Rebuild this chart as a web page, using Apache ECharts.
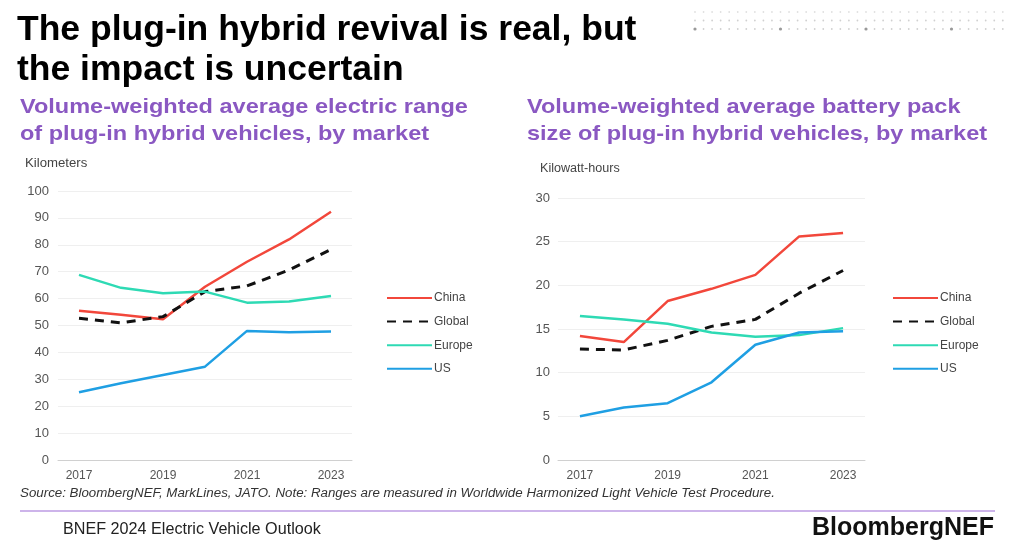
<!DOCTYPE html>
<html><head><meta charset="utf-8">
<script src="https://cdn.jsdelivr.net/npm/echarts@6/dist/echarts.min.js"></script>
<style>html,body{margin:0;padding:0;background:#fff}#c{width:1024px;height:555px}</style>
</head><body><div id="c"></div>
<script>
const years = ['2017','2018','2019','2020','2021','2022','2023'];
const seriesNames = ['China','Global','Europe','US'];
const rangeChina  = [55.5, 54.0, 52.3, 64.4, 73.7, 82.0, 92.3];
const rangeGlobal = [52.7, 51.0, 53.3, 62.6, 64.7, 70.6, 78.3];
const rangeEurope = [68.8, 64.0, 62.0, 62.6, 58.5, 58.9, 61.0];
const rangeUS     = [25.2, 28.5, 31.6, 34.7, 48.0, 47.5, 47.8];
const packChina  = [14.2, 13.5, 18.2, 19.6, 21.2, 25.6, 26.0];
const packGlobal = [12.7, 12.6, 13.7, 15.3, 16.1, 19.1, 21.7];
const packEurope = [16.5, 16.1, 15.6, 14.6, 14.1, 14.3, 15.1];
const packUS     = [5.0, 6.0, 6.5, 8.9, 13.2, 14.6, 14.75];

const colors = {China:'#f2473b', Global:'#111111', Europe:'#2edab4', US:'#1f9fe3'};
const FONT = '"Liberation Sans", Arial, sans-serif';

function mk(name, data, idx){
  const dashed = name === 'Global';
  return {
    name, type:'line', data, xAxisIndex:idx, yAxisIndex:idx,
    symbol:'none', smooth:false, animation:false,
    lineStyle:{color:colors[name], width: dashed ? 3 : 2.5, type: dashed ? [9,7] : 'solid'},
    itemStyle:{color:colors[name]}
  };
}

const dots = [];
for (let r = 0; r < 3; r++) {
  for (let c = 0; c < 37; c++) {
    const big = (r === 2 && c % 10 === 0);
    dots.push({type:'circle', shape:{cx:695 + c*8.55, cy:12 + r*8.5, r: big ? 1.6 : 0.9},
      style:{fill: big ? '#999' : (r === 0 ? '#e0e0e0' : '#d0d0d0')}, silent:true});
  }
}

function txt(x, y, text, font, fill, scaleX, lineHeight){
  return {type:'text', x, y, scaleX: scaleX || 1, silent:true,
    style:{text, font, fill, verticalAlign:'top', lineHeight: lineHeight || undefined}};
}

const yLabel = {color:'#555', fontSize:13, fontFamily:FONT};
const xLabel = {color:'#555', fontSize:12, fontFamily:FONT};
const legendText = {color:'#444', fontSize:12, fontFamily:FONT, padding:[0,0,0,-3]};
const chart = echarts.init(document.getElementById('c'), null, {renderer:'canvas'});
chart.setOption({
  animation:false,
  textStyle:{fontFamily:FONT},
  grid:[
    {left:58, right:672, top:191, bottom:95, containLabel:false},
    {left:558, right:159, top:198, bottom:95, containLabel:false}
  ],
  xAxis:[0,1].map(i => ({
    type:'category', data:years, gridIndex:i, boundaryGap:true,
    axisLine:{lineStyle:{color:'#d0d0d0', width:1}}, axisTick:{show:false},
    axisLabel:Object.assign({interval:1, margin:10}, xLabel)
  })),
  yAxis:[
    {type:'value', gridIndex:0, min:0, max:100, interval:10,
     axisLine:{show:false}, axisTick:{show:false},
     axisLabel:Object.assign({margin:9}, yLabel),
     splitLine:{lineStyle:{color:'#efefef', width:1}}},
    {type:'value', gridIndex:1, min:0, max:30, interval:5,
     axisLine:{show:false}, axisTick:{show:false},
     axisLabel:Object.assign({margin:8}, yLabel),
     splitLine:{lineStyle:{color:'#efefef', width:1}}}
  ],
  legend:[
    {left:381, top:287, orient:'vertical', itemWidth:45, itemHeight:10, itemGap:11.6,
     data:seriesNames, itemStyle:{opacity:0}, textStyle:legendText, selectedMode:false},
    {left:887, top:287, orient:'vertical', itemWidth:45, itemHeight:10, itemGap:11.6,
     data:seriesNames, itemStyle:{opacity:0}, textStyle:legendText, selectedMode:false}
  ],
  series:[
    mk('China', rangeChina, 0), mk('Global', rangeGlobal, 0), mk('Europe', rangeEurope, 0), mk('US', rangeUS, 0),
    mk('China', packChina, 1), mk('Global', packGlobal, 1), mk('Europe', packEurope, 1), mk('US', packUS, 1)
  ],
  graphic:[
    {type:'group', children:dots, silent:true},
    txt(17, 10, 'The plug-in hybrid revival is real, but\nthe impact is uncertain', 'bold 35.5px '+FONT, '#000', 1, 40),
    txt(20, 94, 'Volume-weighted average electric range\nof plug-in hybrid vehicles, by market', 'bold 21px '+FONT, '#8a58c2', 1.12, 27),
    txt(527, 94, 'Volume-weighted average battery pack\nsize of plug-in hybrid vehicles, by market', 'bold 21px '+FONT, '#8a58c2', 1.12, 27),
    txt(25, 158, 'Kilometers', '12px '+FONT, '#444', 1.1),
    txt(540, 163, 'Kilowatt-hours', '12px '+FONT, '#444', 1.05),
    txt(20, 488, 'Source: BloombergNEF, MarkLines, JATO. Note: Ranges are measured in Worldwide Harmonized Light Vehicle Test Procedure.', 'italic 12px '+FONT, '#333', 1.11),
    {type:'rect', shape:{x:20, y:510, width:975, height:2}, style:{fill:'#cdb4ea'}, silent:true},
    txt(63, 522, 'BNEF 2024 Electric Vehicle Outlook', '16px '+FONT, '#222', 1.01),
    txt(812, 516, 'BloombergNEF', 'bold 25px '+FONT, '#111', 1)
  ]
});
</script></body></html>
